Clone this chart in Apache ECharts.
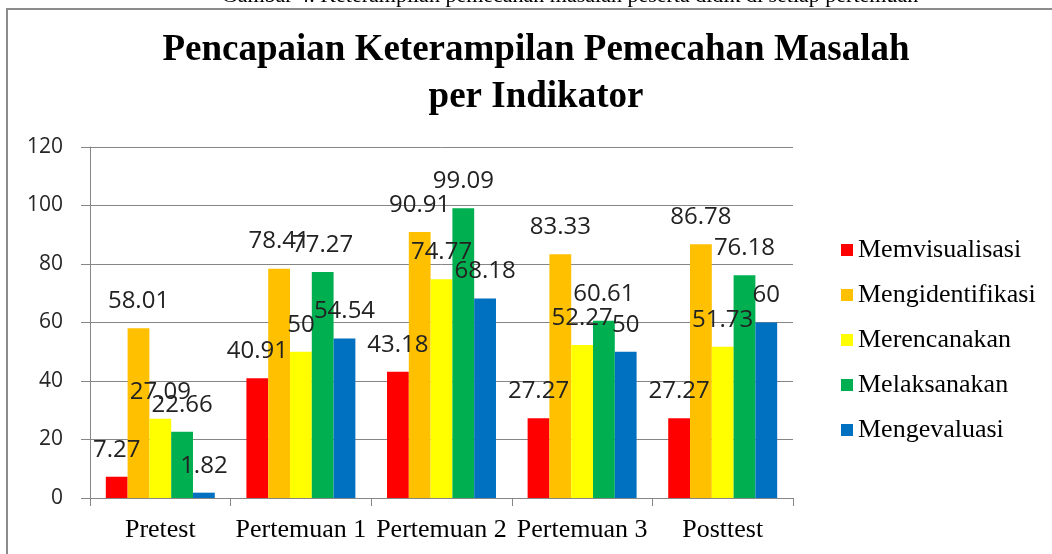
<!DOCTYPE html>
<html>
<head>
<meta charset="utf-8">
<script src="https://cdn.jsdelivr.net/npm/echarts@6/dist/echarts.min.js"></script>
<style>
html,body{margin:0;padding:0;background:#fff;}
#chart{width:1052px;height:554px;}
</style>
</head>
<body>
<div id="chart"></div>
<script>
const caption = 'Gambar 4. Keterampilan pemecahan masalah peserta didik di setiap pertemuan';
const titleText = 'Pencapaian Keterampilan Pemecahan Masalah\nper Indikator';
const categories = ['Pretest', 'Pertemuan 1', 'Pertemuan 2', 'Pertemuan 3', 'Posttest'];
const seriesNames = ['Memvisualisasi', 'Mengidentifikasi', 'Merencanakan', 'Melaksanakan', 'Mengevaluasi'];
const memvisualisasi = [7.27, 40.91, 43.18, 27.27, 27.27];
const mengidentifikasi = [58.01, 78.41, 90.91, 83.33, 86.78];
const merencanakan = [27.09, 50, 74.77, 52.27, 51.73];
const melaksanakan = [22.66, 77.27, 99.09, 60.61, 76.18];
const mengevaluasi = [1.82, 54.54, 68.18, 50, 60];
const seriesColors = ['#FF0000', '#FFC000', '#FFFF00', '#00B050', '#0070C0'];
const yTicks = [0, 20, 40, 60, 80, 100, 120];

const seriesData = [memvisualisasi, mengidentifikasi, merencanakan, melaksanakan, mengevaluasi];

const chart = echarts.init(document.getElementById('chart'));
chart.setOption({
  animation: false,
  backgroundColor: '#ffffff',
  title: {
    text: titleText,
    left: 536,
    textAlign: 'center',
    top: 27,
    padding: 0,
    textStyle: {
      fontFamily: 'Liberation Serif',
      fontWeight: 'bold',
      fontSize: 37,
      lineHeight: 47,
      color: '#000'
    }
  },
  legend: {
    orient: 'vertical',
    left: 836,
    top: 232,
    itemWidth: 12,
    itemHeight: 12,
    itemGap: 19,
    itemTextGap: 8,
    icon: 'rect',
    data: seriesNames,
    textStyle: {
      fontFamily: 'Liberation Serif',
      fontSize: 26,
      lineHeight: 22,
      color: '#000'
    }
  },
  grid: {
    left: 90,
    right: 259,
    top: 147,
    bottom: 56,
    containLabel: false
  },
  xAxis: {
    type: 'category',
    data: categories,
    axisLine: { show: true, lineStyle: { color: '#868686', width: 1 } },
    axisTick: { show: true, length: 8, lineStyle: { color: '#868686' } },
    axisLabel: {
      interval: 0,
      hideOverlap: false,
      margin: 19,
      fontFamily: 'Liberation Serif',
      fontSize: 26,
      color: '#000'
    }
  },
  yAxis: {
    type: 'value',
    min: yTicks[0],
    max: yTicks[yTicks.length - 1],
    interval: yTicks[1] - yTicks[0],
    axisLine: { show: true, lineStyle: { color: '#868686', width: 1 } },
    axisTick: { show: true, length: 9, lineStyle: { color: '#868686' } },
    splitLine: { show: true, lineStyle: { color: '#868686', width: 1 } },
    axisLabel: {
      margin: 27,
      fontFamily: 'Open Sans',
      fontSize: 21,
      color: '#262626'
    }
  },
  series: seriesNames.map((name, i) => ({
    name: name,
    type: 'bar',
    data: seriesData[i],
    barGap: '0%',
    barCategoryGap: '22.5%',
    itemStyle: { color: seriesColors[i] },
    label: {
      show: true,
      position: 'top',
      distance: 15,
      fontFamily: 'Open Sans',
      fontSize: 24,
      color: '#222'
    }
  })),
  graphic: [
    {
      type: 'text',
      x: 570,
      y: 7,
      style: {
        text: caption,
        fontFamily: 'Liberation Serif',
        fontSize: 22,
        fill: '#000',
        align: 'center',
        verticalAlign: 'bottom'
      }
    },
    {
      type: 'polyline',
      shape: { points: [[7, 554], [7, 9], [1052, 9]] },
      style: { stroke: '#8c8c8c', lineWidth: 2, fill: null }
    }
  ]
});
</script>
</body>
</html>
